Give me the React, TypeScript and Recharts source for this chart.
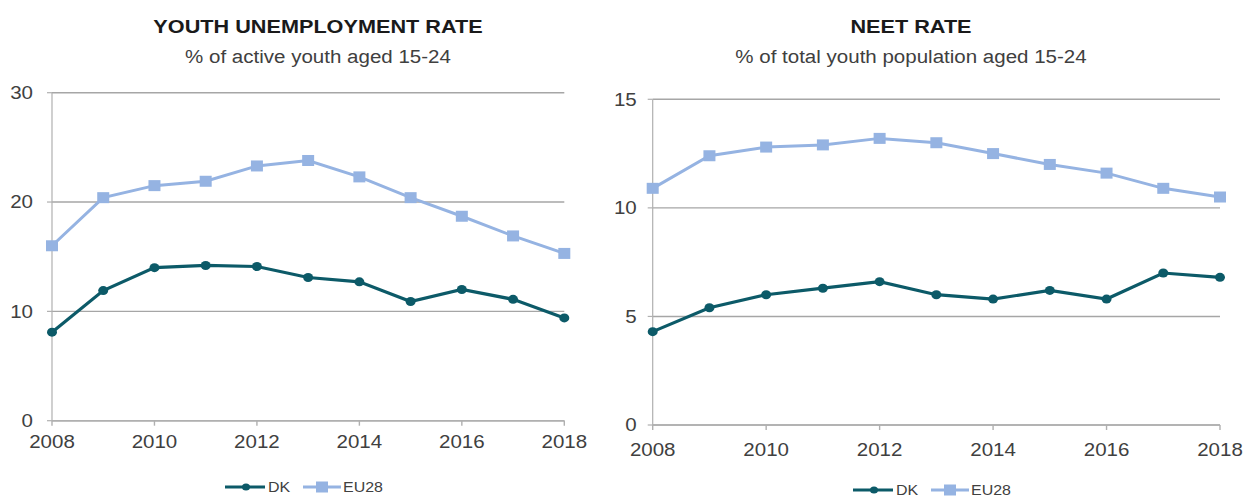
import React from "react";
import { LineChart, Line, XAxis, YAxis, CartesianGrid } from "recharts";

const years = [2008, 2009, 2010, 2011, 2012, 2013, 2014, 2015, 2016, 2017, 2018];
const xTicks = [2008, 2010, 2012, 2014, 2016, 2018];

// youth unemployment rate, % of active youth aged 15-24
const dkUnemp = [8.1, 11.9, 14.0, 14.2, 14.1, 13.1, 12.7, 10.9, 12.0, 11.1, 9.4];
const euUnemp = [16.0, 20.4, 21.5, 21.9, 23.3, 23.8, 22.3, 20.4, 18.7, 16.9, 15.3];

// NEET rate, % of total youth population aged 15-24
const dkNeet = [4.3, 5.4, 6.0, 6.3, 6.6, 6.0, 5.8, 6.2, 5.8, 7.0, 6.8];
const euNeet = [10.9, 12.4, 12.8, 12.9, 13.2, 13.0, 12.5, 12.0, 11.6, 10.9, 10.5];

const unempTicks = [0, 10, 20, 30];
const neetTicks = [0, 5, 10, 15];

const DK_COLOR = "#0c5a68";
const EU_COLOR = "#95b3e2";
const FONT = "'Liberation Sans', Arial, sans-serif";
const STRETCH = 1.14; // the source image is a bit wider than tall

const squareDot = (props: any) => {
  const { cx, cy, index } = props;
  return <rect key={"sq" + index} x={cx - 6} y={cy - 5.5} width={12} height={11} fill={EU_COLOR} />;
};

const circleDot = (props: any) => {
  const { cx, cy, index } = props;
  return <ellipse key={"c" + index} cx={cx} cy={cy} rx={5} ry={4.5} fill={DK_COLOR} />;
};

const XTick = (props: any) => {
  const { x, y, payload } = props;
  return (
    <g transform={`translate(${x},${y})`}>
      <text transform={`scale(${STRETCH},1)`} textAnchor="middle" dy="0.71em" fill="#404040" fontSize={18} fontFamily={FONT}>
        {payload.value}
      </text>
    </g>
  );
};

const YTick = (props: any) => {
  const { x, y, payload } = props;
  return (
    <g transform={`translate(${x},${y})`}>
      <text transform={`scale(${STRETCH},1)`} textAnchor="end" dy="0.355em" fill="#404040" fontSize={18} fontFamily={FONT}>
        {payload.value}
      </text>
    </g>
  );
};

function Legend({ left, centerY }: { left: number; centerY: number }) {
  const text = {
    fontFamily: FONT,
    fontSize: 14,
    color: "#404040",
    display: "inline-block",
    transform: `scaleX(${STRETCH})`,
    transformOrigin: "left center",
  } as React.CSSProperties;
  return (
    <div style={{ position: "absolute", left, top: centerY - 8, height: 16, display: "flex", alignItems: "center" }}>
      <svg width={40} height={12}>
        <line x1={0} y1={6} x2={40} y2={6} stroke={DK_COLOR} strokeWidth={3} />
        <ellipse cx={21} cy={6} rx={4} ry={3.5} fill={DK_COLOR} />
      </svg>
      <span style={{ ...text, marginLeft: 3, width: 35 }}>DK</span>
      <svg width={38} height={12}>
        <line x1={0} y1={6} x2={38} y2={6} stroke={EU_COLOR} strokeWidth={3} />
        <rect x={13} y={0.5} width={12} height={11} fill={EU_COLOR} />
      </svg>
      <span style={{ ...text, marginLeft: 2 }}>EU28</span>
    </div>
  );
}

function Title({ center, title, subtitle }: { center: number; title: string; subtitle: string }) {
  const line = {
    transform: `scaleX(${STRETCH})`,
    transformOrigin: "center",
    whiteSpace: "nowrap",
  } as React.CSSProperties;
  return (
    <div style={{ position: "absolute", left: center - 300, width: 600, top: 15.7, textAlign: "center", fontFamily: FONT }}>
      <div style={{ ...line, fontSize: 19, fontWeight: "bold", color: "#1a1a1a", lineHeight: "22px" }}>{title}</div>
      <div style={{ ...line, fontSize: 18, color: "#404040", lineHeight: "22px", marginTop: 8.8 }}>{subtitle}</div>
    </div>
  );
}

function Panel(props: {
  left: number;
  width: number;
  dk: number[];
  eu: number[];
  yTicks: number[];
  yWidth: number;
  margin: { top: number; right: number; left: number; bottom: number };
  xTickMargin: number;
  yTickMargin: number;
}) {
  const data = years.map((y, i) => ({ year: y, dk: props.dk[i], eu: props.eu[i] }));
  return (
    <div style={{ position: "absolute", left: props.left, top: 0 }}>
      <LineChart width={props.width} height={499} data={data} margin={props.margin}>
        <CartesianGrid vertical={false} stroke="#a6a6a6" strokeWidth={1.4} />
        <XAxis
          dataKey="year"
          type="number"
          domain={[2008, 2018]}
          ticks={xTicks}
          height={30}
          tick={XTick}
          tickSize={5}
          tickMargin={props.xTickMargin}
          stroke="#b0b0b0"
          strokeWidth={1.4}
          interval={0}
        />
        <YAxis
          domain={[props.yTicks[0], props.yTicks[props.yTicks.length - 1]]}
          ticks={props.yTicks}
          width={props.yWidth}
          tick={YTick}
          tickSize={5}
          tickMargin={props.yTickMargin}
          stroke="#b0b0b0"
          strokeWidth={1.2}
          interval={0}
        />
        <Line
          dataKey="eu"
          stroke={EU_COLOR}
          strokeWidth={3}
          dot={squareDot}
          activeDot={false}
          isAnimationActive={false}
        />
        <Line
          dataKey="dk"
          stroke={DK_COLOR}
          strokeWidth={3.2}
          dot={circleDot}
          activeDot={false}
          isAnimationActive={false}
        />
      </LineChart>
    </div>
  );
}

export default function App() {
  return (
    <div style={{ position: "fixed", left: 0, top: 0, width: 1246, height: 499, background: "#fff", overflow: "hidden" }}>
      <Title center={318} title="YOUTH UNEMPLOYMENT RATE" subtitle="% of active youth aged 15-24" />
      <Title center={911} title="NEET RATE" subtitle="% of total youth population aged 15-24" />
      <Panel
        left={0}
        width={620}
        dk={dkUnemp}
        eu={euUnemp}
        yTicks={unempTicks}
        yWidth={52}
        margin={{ top: 92.7, right: 55.7, left: 0, bottom: 48.3 }}
        xTickMargin={10}
        yTickMargin={14}
      />
      <Panel
        left={600}
        width={646}
        dk={dkNeet}
        eu={euNeet}
        yTicks={neetTicks}
        yWidth={52.7}
        margin={{ top: 99.3, right: 26, left: 0, bottom: 44 }}
        xTickMargin={13}
        yTickMargin={11}
      />
      <Legend left={225} centerY={486.5} />
      <Legend left={853} centerY={490} />
    </div>
  );
}
